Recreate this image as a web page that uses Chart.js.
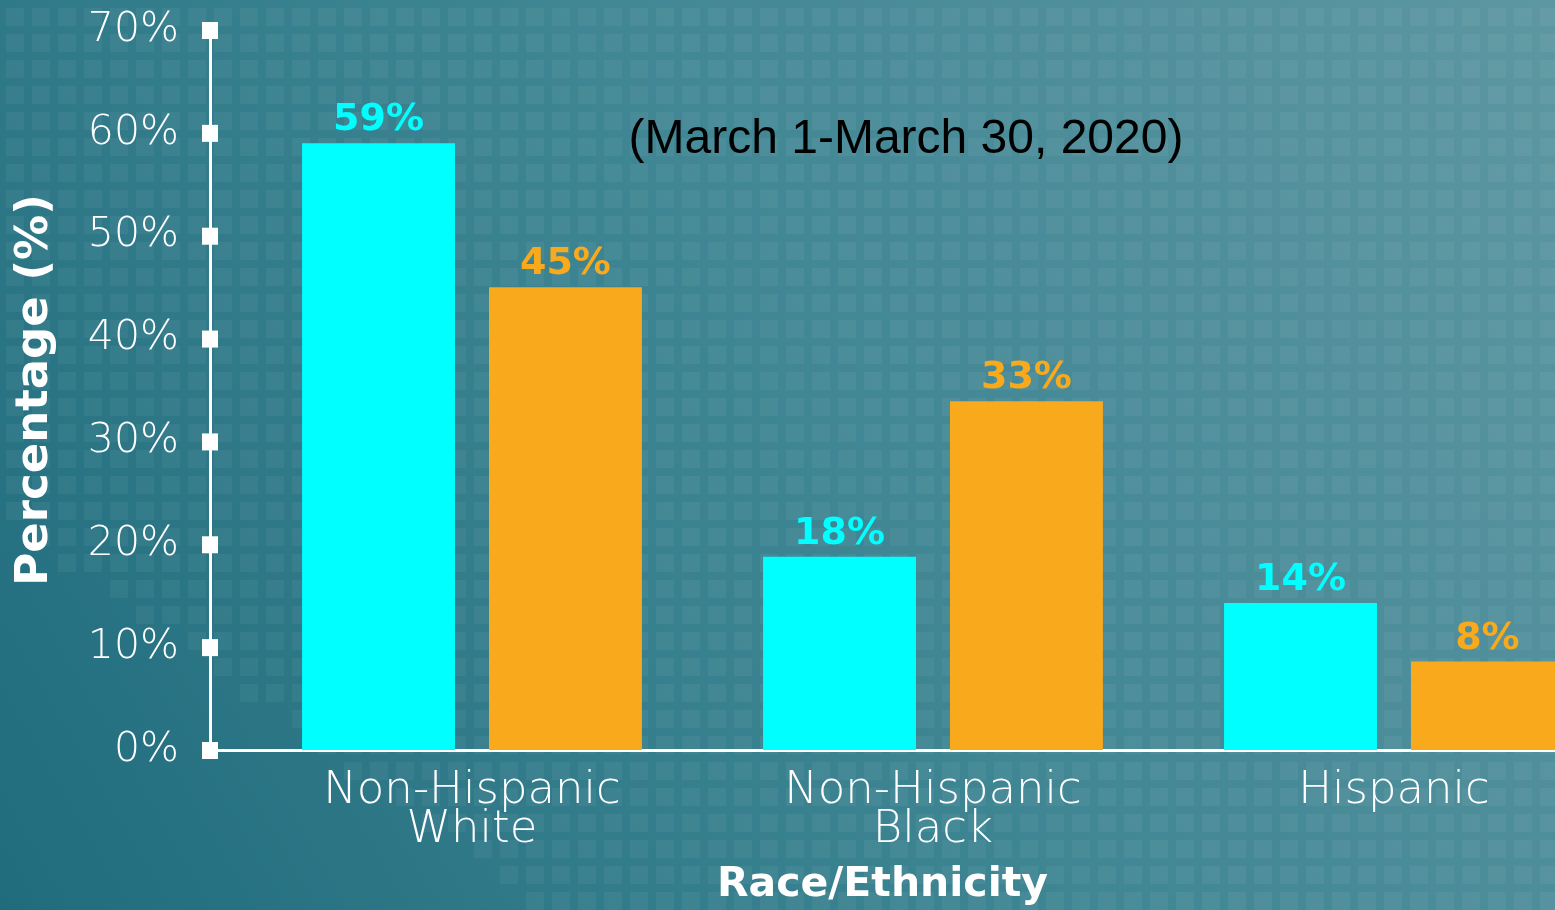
<!DOCTYPE html>
<html>
<head>
<meta charset="utf-8">
<script src="https://cdn.jsdelivr.net/npm/chart.js@4"></script>
<style>
  html, body { margin: 0; padding: 0; overflow: hidden; background: #3d8591; }
  #wrap { width: 1555px; height: 910px; }
</style>
</head>
<body>
<div id="wrap"><canvas id="graph" width="1555" height="910"></canvas></div>
<script>
// data
const categories = [['Non-Hispanic', 'White'], ['Non-Hispanic', 'Black'], 'Hispanic'];
const cyanValues = [59, 18.8, 14.3];
const orangeValues = [45, 33.9, 8.6];
const cyanLabels = ['59%', '18%', '14%'];
const orangeLabels = ['45%', '33%', '8%'];
const yTicks = [0, 10, 20, 30, 40, 50, 60, 70];
const subtitle = '(March 1-March 30, 2020)';

const CYAN = '#00ffff';
const ORANGE = '#f9a91c';
const FONT = '"DejaVu Sans", sans-serif';

// background gradient + faint dot matrix
const backdrop = {
    id: 'backdrop',
    beforeDraw(chart) {
        const c = chart.ctx;
        const w = chart.width, h = chart.height;
        c.save();
        const g = c.createLinearGradient(0, h, w, 0);
        g.addColorStop(0, '#206c7d');
        g.addColorStop(0.45, '#3b8391');
        g.addColorStop(1, '#5d97a2');
        c.fillStyle = g;
        c.fillRect(0, 0, w, h);
        c.fillStyle = 'rgba(255,255,255,0.05)';
        for (let y = 8; y < h; y += 26) {
            for (let x = 6; x < w; x += 26) {
                const fade = (x / w) + (1 - y / h) * 0.8;
                if (fade < 0.35) continue;
                c.fillRect(x, y, 18, 18);
            }
        }
        c.restore();
    }
};

// square tick marks on the y axis, labels over the bars, subtitle
const extras = {
    id: 'extras',
    afterDraw(chart) {
        const c = chart.ctx;
        const ys = chart.scales.y;
        const x0 = chart.chartArea.left;
        c.save();
        c.fillStyle = '#ffffff';
        yTicks.forEach(v => {
            const py = ys.getPixelForValue(v);
            c.fillRect(x0 - 8, py - 8, 16, 17);
        });

        c.font = 'bold 38px ' + FONT;
        c.textAlign = 'center';
        c.textBaseline = 'alphabetic';
        const sets = [[cyanLabels, CYAN], [orangeLabels, ORANGE]];
        sets.forEach((s, di) => {
            const meta = chart.getDatasetMeta(di);
            meta.data.forEach((bar, i) => {
                c.fillStyle = s[1];
                c.fillText(s[0][i], bar.x, bar.y - 13);
            });
        });

        c.fillStyle = '#000000';
        c.font = '48px "Liberation Sans", Arial, sans-serif';
        c.fillText(subtitle, 906, 153);
        c.restore();
    }
};

const ctx = document.getElementById('graph');
const chart = new Chart(ctx, {
    type: 'bar',
    data: {
        datasets: [{
            label: 'series 1',
            data: cyanValues.map((v, i) => ({ x: i, y: v })),
            backgroundColor: CYAN,
            categoryPercentage: 0.811,
            barPercentage: 0.818
        }, {
            label: 'series 2',
            data: orangeValues.map((v, i) => ({ x: i, y: v })),
            backgroundColor: ORANGE,
            categoryPercentage: 0.811,
            barPercentage: 0.818
        }]
    },
    options: {
        responsive: false,
        animation: false,
        layout: { padding: { top: 30, left: 0, right: 0, bottom: 0 } },
        plugins: {
            legend: { display: false },
            tooltip: { enabled: false }
        },
        scales: {
            x: {
                type: 'linear',
                offset: false,
                min: -0.5683,
                max: 2.3493,
                afterFit(scale) {
                    scale.height = 160;
                    scale.paddingLeft = 0;
                    scale.paddingRight = 0;
                },
                afterBuildTicks(scale) {
                    scale.ticks = categories.map((c, i) => ({ value: i }));
                },
                grid: { display: false, offset: false },
                border: { display: true, color: '#ffffff', width: 3 },
                ticks: {
                    autoSkip: false,
                    padding: 14,
                    color: '#ffffff',
                    font: { family: FONT, size: 45, weight: 200, lineHeight: 0.87 },
                    callback: (v) => categories[v]
                },
                title: {
                    display: true,
                    text: 'Race/Ethnicity',
                    color: '#ffffff',
                    font: { family: FONT, size: 41, weight: 'bold' },
                    padding: { top: 0, bottom: 0 }
                }
            },
            y: {
                min: 0,
                max: 70,
                afterFit(scale) {
                    scale.width = 210;
                    scale.paddingTop = 0;
                    scale.paddingBottom = 0;
                },
                afterBuildTicks(scale) {
                    scale.ticks = yTicks.map(v => ({ value: v }));
                },
                grid: { display: false, drawTicks: false },
                border: { display: true, color: '#ffffff', width: 3 },
                ticks: {
                    padding: 31,
                    color: '#ffffff',
                    font: { family: FONT, size: 41, weight: 200 },
                    callback: (v) => v + '%'
                },
                title: {
                    display: true,
                    text: 'Percentage (%)',
                    color: '#ffffff',
                    font: { family: FONT, size: 45, weight: 'bold' },
                    padding: { top: 8, bottom: 0 }
                }
            }
        }
    },
    plugins: [backdrop, extras]
});
</script>
</body>
</html>
